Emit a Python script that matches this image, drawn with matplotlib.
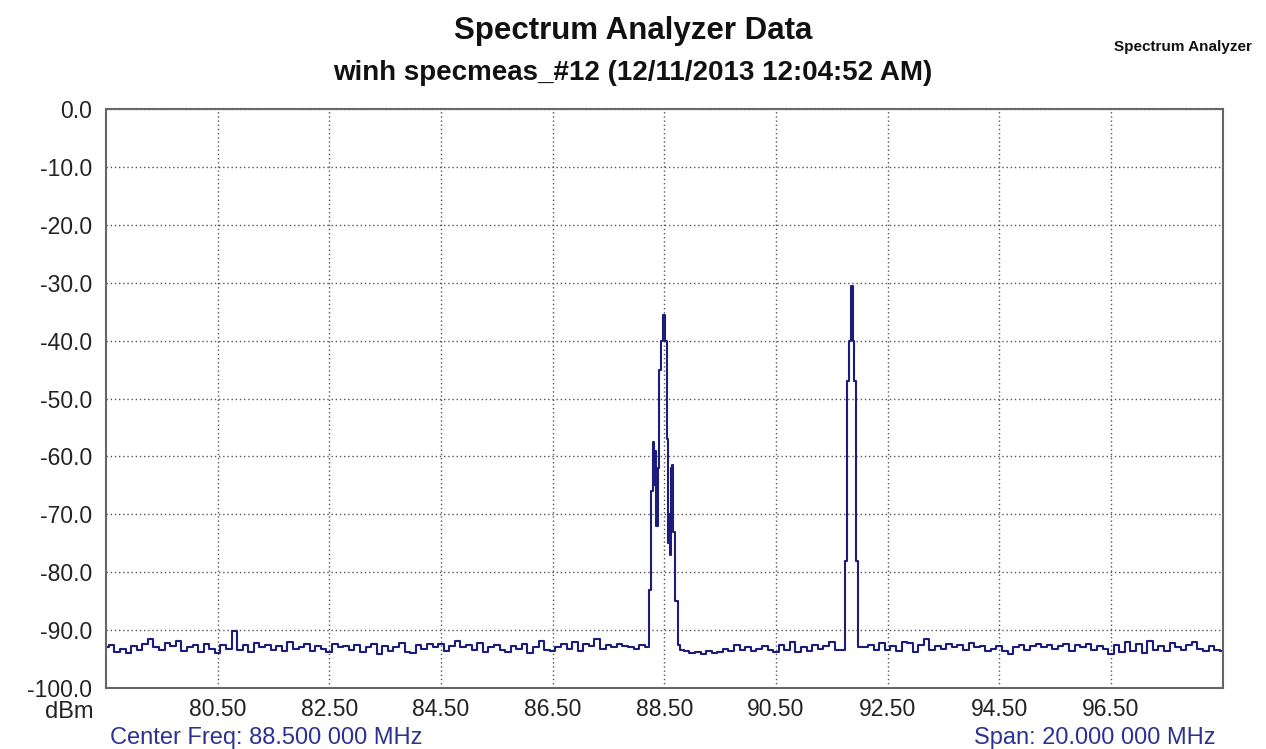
import numpy as np
import matplotlib
matplotlib.use('Agg')
import matplotlib.pyplot as plt

# noise floor, read every 0.1 MHz from 78.5 to 98.5 MHz (peak spans get replaced below)
noise_dbm = [
    -93.0, -92.6, -93.8, -93.2, -94.0, -92.8, -93.5, -92.4, -91.6, -93.0,   # 78.5
    -93.4, -92.2, -92.8, -91.8, -93.6, -93.0, -92.6, -93.8, -92.4, -93.2,   # 79.5
    -94.0, -92.6, -93.2, -90.2, -93.4, -92.6, -93.8, -92.2, -93.0, -92.6,   # 80.5
    -93.4, -92.8, -93.6, -92.0, -93.2, -93.0, -92.4, -93.6, -92.8, -93.2,   # 81.5
    -93.8, -92.4, -93.0, -92.8, -93.4, -92.6, -93.8, -93.0, -92.4, -94.2,   # 82.5
    -92.8, -93.6, -93.0, -92.2, -93.8, -94.0, -92.6, -93.2, -92.4, -93.0,   # 83.5
    -92.4, -93.6, -92.8, -91.8, -93.0, -92.6, -93.4, -92.2, -93.8, -93.0,   # 84.5
    -92.6, -93.4, -93.8, -92.8, -93.2, -92.4, -94.0, -93.0, -91.8, -93.4,   # 85.5
    -93.6, -93.0, -92.4, -93.2, -92.0, -93.6, -92.4, -92.8, -91.6, -93.2,   # 86.5
    -92.6, -93.0, -92.4, -92.8, -93.0, -93.2, -92.6, -93.0, -93.0, -93.0,   # 87.5
    -93.0, -93.0, -93.0, -93.0, -93.6, -94.0, -93.8, -94.2, -93.6, -94.0,   # 88.5
    -93.8, -93.2, -93.6, -92.6, -93.4, -93.0, -93.6, -93.2, -92.8, -93.4,   # 89.5
    -93.8, -92.6, -93.4, -92.0, -93.8, -93.0, -93.6, -92.6, -93.2, -92.8,   # 90.5
    -92.0, -93.4, -93.0, -93.0, -93.0, -93.0, -93.0, -92.6, -93.4, -92.2,   # 91.5
    -93.4, -92.8, -93.6, -92.0, -92.2, -93.8, -92.6, -91.6, -93.4, -92.8,   # 92.5
    -93.2, -92.4, -93.0, -92.6, -93.4, -92.2, -93.0, -92.8, -93.6, -93.2,   # 93.5
    -92.8, -93.6, -94.2, -93.0, -92.6, -93.4, -92.8, -92.4, -93.0, -92.6,   # 94.5
    -93.2, -92.8, -92.4, -93.6, -92.6, -93.0, -92.4, -93.4, -92.8, -93.2,   # 95.5
    -94.2, -92.6, -93.8, -92.0, -93.6, -92.4, -94.0, -91.8, -93.4, -92.8,   # 96.5
    -93.6, -92.2, -93.0, -93.4, -92.6, -92.0, -93.2, -93.6, -92.8, -93.4,   # 97.5
    -93.6,
]
noise_freq = np.round(np.linspace(78.5, 98.5, len(noise_dbm)), 2)

# carrier near 88.5 MHz
peak1_freq = [88.20, 88.24, 88.28, 88.31, 88.33, 88.35, 88.37, 88.39, 88.42, 88.46,
              88.50, 88.53, 88.55, 88.57, 88.59, 88.61, 88.63, 88.65, 88.68, 88.72,
              88.76, 88.80]
peak1_dbm = [-93.0, -83.0, -66.0, -57.5, -65.0, -59.0, -72.0, -62.0, -45.0, -40.0,
             -35.5, -40.0, -57.0, -75.0, -70.0, -77.0, -62.0, -61.5, -73.0, -85.0,
             -92.5, -93.5]

# carrier near 91.9 MHz
peak2_freq = [91.70, 91.76, 91.80, 91.83, 91.86, 91.89, 91.92, 91.95, 92.00]
peak2_dbm = [-93.5, -78.0, -47.0, -40.0, -30.5, -40.0, -47.0, -78.0, -93.0]

x_ticks = [80.5, 82.5, 84.5, 86.5, 88.5, 90.5, 92.5, 94.5, 96.5]
y_ticks = [0, -10, -20, -30, -40, -50, -60, -70, -80, -90, -100]

# merge noise and peaks into one trace
keep = ~(((noise_freq >= 88.2) & (noise_freq <= 88.8)) | ((noise_freq >= 91.7) & (noise_freq <= 92.0)))
freq = np.concatenate([noise_freq[keep], peak1_freq, peak2_freq])
dbm = np.concatenate([np.array(noise_dbm)[keep], peak1_dbm, peak2_dbm])
order = np.argsort(freq, kind='stable')
freq, dbm = freq[order], dbm[order]

plt.rcParams['font.family'] = ['Liberation Sans', 'DejaVu Sans']

fig = plt.figure(figsize=(12.66, 7.49), dpi=100)
ax = fig.add_axes([0.0837, 0.0814, 0.882, 0.7731])

ax.plot(freq, dbm, color='#1c1c7c', linewidth=1.5, drawstyle='steps-mid')

ax.set_xlim(78.5, 98.5)
ax.set_ylim(-100, 0)
ax.set_xticks(x_ticks)
ax.set_xticklabels(['%.2f' % t for t in x_ticks])
ax.set_yticks(y_ticks)
ax.set_yticklabels(['%.1f' % t for t in y_ticks])
ax.tick_params(axis='x', length=0, labelsize=16.5, labelcolor='#222222', pad=7)
ax.tick_params(axis='y', length=0, labelsize=16.5, labelcolor='#222222', pad=10)
ax.grid(True, color='#555555', linestyle=(0, (1, 2)), linewidth=1.0)
for s in ax.spines.values():
    s.set_color('#666666')
    s.set_linewidth(1.5)

fig.text(0.5, 0.958, 'Spectrum Analyzer Data', ha='center', va='center',
         fontsize=22.5, fontweight='bold', color='#111111')
fig.text(0.5, 0.903, 'winh specmeas_#12 (12/11/2013 12:04:52 AM)', ha='center', va='center',
         fontsize=20, fontweight='bold', color='#111111')
fig.text(0.989, 0.937, 'Spectrum Analyzer', ha='right', va='center',
         fontsize=11, fontweight='bold', color='#111111')
fig.text(0.074, 0.049, 'dBm', ha='right', va='center', fontsize=17, color='#222222')
fig.text(0.087, 0.015, 'Center Freq: 88.500 000 MHz', ha='left', va='center',
         fontsize=17, color='#2e3192')
fig.text(0.96, 0.015, 'Span: 20.000 000 MHz', ha='right', va='center',
         fontsize=17, color='#2e3192')

fig.savefig('out.png', dpi=100)
